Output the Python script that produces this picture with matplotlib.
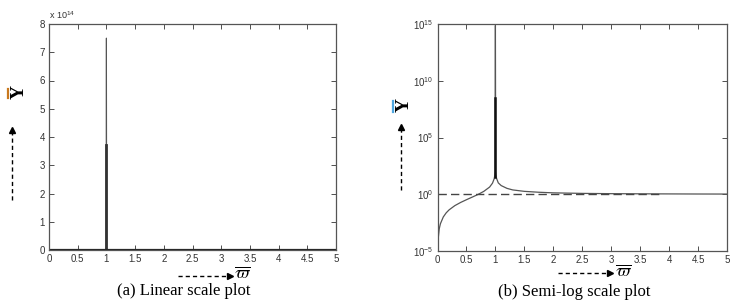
#!/usr/bin/env python
"""
	Linear and semi-log plots of the response Y against normalised frequency.
"""

import math
import matplotlib
matplotlib.use('Agg')
import matplotlib.pyplot as plt
from matplotlib.lines import Line2D
from matplotlib.ticker import FuncFormatter, FixedLocator, NullLocator

# Response curve (omega_bar, Y)
omega = [0.01, 0.03, 0.05, 0.1, 0.15, 0.2, 0.3, 0.4, 0.5, 0.6, 0.7, 0.8,
         0.9, 0.95, 0.98, 0.99, 0.995, 1.0, 1.005, 1.01, 1.02, 1.05, 1.1,
         1.2, 1.3, 1.5, 1.75, 2.0, 2.5, 3.0, 3.5, 4.0, 4.5, 5.0]
Y = [1e-4, 9e-4, 2.5e-3, 1e-2, 2.3e-2, 4.2e-2, 0.1, 0.19, 0.33, 0.56,
     0.96, 1.8, 4.3, 9.5, 24, 49, 100, 7.5e14, 100, 50, 25, 10, 5.8, 3.3,
     2.4, 1.8, 1.5, 1.33, 1.19, 1.125, 1.09, 1.07, 1.05, 1.04]

# Thick segment at resonance
spike_w = [1.0, 1.0]
spike_lin = [0.0, 3.7e14]
spike_log = [30, 2.8e8]

# Reference level Y = 1 (dashed)
ref_w = [0.0, 3.9]
ref_y = [1.0, 1.0]

xticks = [0, 0.5, 1, 1.5, 2, 2.5, 3, 3.5, 4, 4.5, 5]
lin_yticks = [0, 1e14, 2e14, 3e14, 4e14, 5e14, 6e14, 7e14, 8e14]
log_yticks = [1e-5, 1e0, 1e5, 1e10, 1e15]

W, H = 735, 304
plt.rcParams['mathtext.fontset'] = 'stix'
plt.rcParams['font.family'] = 'Liberation Sans'

fig = plt.figure(figsize=(W / 100.0, H / 100.0), dpi=100)

def px(x, y):
	return (x / float(W), 1 - y / float(H))

def box(l, t, r, b):
	return [l / float(W), 1 - b / float(H), (r - l) / float(W), (b - t) / float(H)]

ax_lin = fig.add_axes(box(49, 24, 336, 250))
ax_log = fig.add_axes(box(437.5, 24, 727, 251))

curve_col = '#555555'
for ax in (ax_lin, ax_log):
	ax.set_xlim(0, 5)
	ax.xaxis.set_major_locator(FixedLocator(xticks))
	ax.xaxis.set_major_formatter(FuncFormatter(lambda v, p: '%g' % v))
	ax.tick_params(direction='in', top=True, right=True, length=3.5, width=0.6,
	               labelsize=7, colors='#333333', pad=3)
	for s in ax.spines.values():
		s.set_color('#555555')
		s.set_linewidth(0.9)

# (a) linear scale
ax_lin.plot(omega, Y, color=curve_col, linewidth=0.8)
ax_lin.plot(spike_w, spike_lin, color='#333333', linewidth=2.0)
ax_lin.plot([0, 5], [0, 0], color='#222222', linewidth=1.6)
ax_lin.set_ylim(0, 8e14)
ax_lin.yaxis.set_major_locator(FixedLocator(lin_yticks))
ax_lin.yaxis.set_major_formatter(FuncFormatter(lambda v, p: '%g' % (v / 1e14)))
ax_lin.text(0.0, 1.015, r'x 10$\mathregular{^{14}}$', transform=ax_lin.transAxes, fontsize=6.5,
            color='#333333', ha='left', va='bottom')

# (b) semi-log scale
ax_log.semilogy(omega, Y, color=curve_col, linewidth=0.9)
ax_log.plot(spike_w, spike_log, color='#111111', linewidth=1.8)
ax_log.plot(ref_w, ref_y, color='#444444', linewidth=1.0, dashes=(6, 3))
ax_log.set_ylim(1e-5, 1e15)
ax_log.yaxis.set_major_locator(FixedLocator(log_yticks))
ax_log.yaxis.set_minor_locator(NullLocator())
ax_log.yaxis.set_major_formatter(
	FuncFormatter(lambda v, p: r'$\mathregular{10^{%d}}$' % round(math.log10(v))))
ax_log.tick_params(axis='y', labelsize=7)

# Axis labels drawn as in the original figure: rotated Y with a coloured bar, dashed arrows
def y_label(xc, yc, bar_x, bar_y0, bar_y1, bar_col):
	fig.text(*px(xc, yc), 'Y', rotation=90, ha='center', va='center',
	         family='Liberation Serif', fontweight='bold', fontsize=14)
	fig.add_artist(Line2D([bar_x / W, bar_x / W], [1 - bar_y0 / H, 1 - bar_y1 / H],
	                      transform=fig.transFigure, color=bar_col, linewidth=1.6))

def dashed_arrow(x0, y0, x1, y1):
	fig.add_artist(Line2D([x0 / W, x1 / W], [1 - y0 / H, 1 - y1 / H], transform=fig.transFigure,
	                      color='black', linewidth=1.0, dashes=(3, 2.2)))
	mk = '^' if x0 == x1 else '>'
	fig.add_artist(Line2D([x1 / W], [1 - y1 / H], transform=fig.transFigure, marker=mk,
	                      markersize=4, color='black', linestyle='none'))

def omega_label(xc, yc):
	fig.text(*px(xc, yc), r'$\overline{\varpi}$', ha='center', va='center', fontsize=13)

y_label(19, 92, 8, 89, 98, '#c8781e')
dashed_arrow(12, 200, 12, 130)
dashed_arrow(178, 276, 230, 276)
omega_label(242, 274)
fig.text(*px(184, 291), '(a) Linear scale plot', ha='center', va='center',
         family='Liberation Serif', fontsize=12)

y_label(404, 105, 393, 101, 112, '#4da6e0')
dashed_arrow(401, 190, 401, 127)
dashed_arrow(558, 273, 610, 273)
omega_label(623, 272)
fig.text(*px(574, 292), '(b) Semi-log scale plot', ha='center', va='center',
         family='Liberation Serif', fontsize=12)

fig.savefig('out.png', dpi=100)
plt.close('all')
